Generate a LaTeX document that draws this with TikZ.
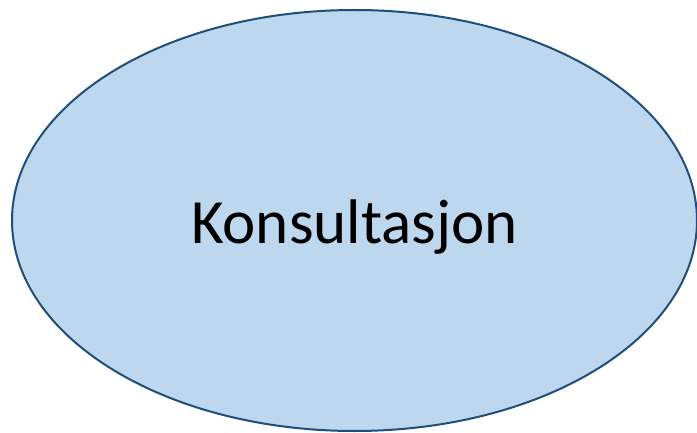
\documentclass[tikz,border=0pt]{standalone}
\usepackage{fontspec}
\setmainfont{Carlito}
\usetikzlibrary{shapes.geometric}
\definecolor{ellipsefill}{RGB}{189,215,238}
\definecolor{ellipseline}{RGB}{31,78,121}

\begin{document}
\begin{tikzpicture}[x=1pt, y=-1pt]
				\useasboundingbox (0, 0) rectangle (697, 433);
				\node[draw=ellipseline, ellipse, line width=2pt, fill=ellipsefill, inner sep=0pt, minimum width=685pt, minimum height=421pt, text height=46pt, text depth=0pt, font=\fontsize{63}{72}\selectfont] (Konsultasjon)at(354.5, 220.5) {Konsultasjon};
			\end{tikzpicture}
\end{document}
